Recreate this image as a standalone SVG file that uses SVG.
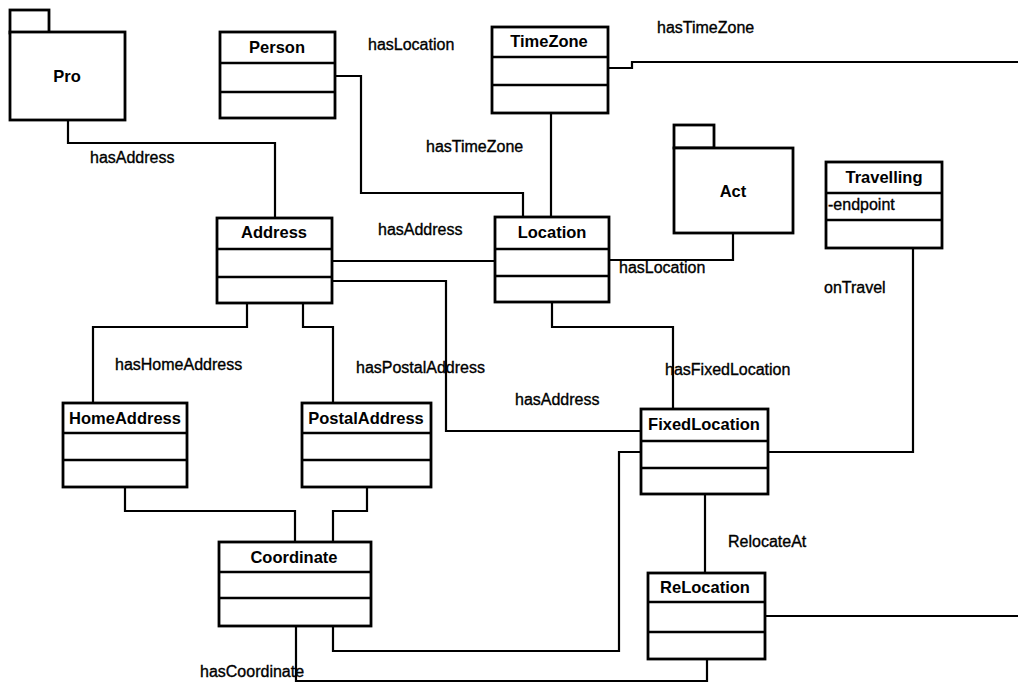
<svg xmlns="http://www.w3.org/2000/svg" width="1018" height="684" viewBox="0 0 1018 684">
  <style>
    .box { fill: #fff; stroke: #000; stroke-width: 2.8; }
    .sep { stroke: #000; stroke-width: 2.4; }
    .name { font-family: "Liberation Sans", Arial, sans-serif; font-weight: bold; font-size: 16.5px; text-anchor: middle; fill: #000; }
    .attr { font-family: "Liberation Sans", Arial, sans-serif; font-size: 16px; fill: #000; stroke: #000; stroke-width: 0.35; }
    .lbl { font-family: "Liberation Sans", Arial, sans-serif; font-size: 16px; fill: #000; stroke: #000; stroke-width: 0.35; }
    .wire { fill: none; stroke: #000; stroke-width: 2.2; }
  </style>
  <rect width="1018" height="684" fill="#fff"/>

  <!-- associations -->
  <g id="connectors">
    <path class="wire" d="M68,120 V143 H275 V218"/>
    <path class="wire" d="M335,76 H361 V193 H523 V217"/>
    <path class="wire" d="M551,113 V217"/>
    <path class="wire" d="M608,68 H632 V62 H1018"/>
    <path class="wire" d="M332,261 H495"/>
    <path class="wire" d="M332,281 H446 V431 H641"/>
    <path class="wire" d="M733,233 V260 H609"/>
    <path class="wire" d="M247,303 V327 H93 V403"/>
    <path class="wire" d="M303,303 V327 H333 V403"/>
    <path class="wire" d="M552,302 V327 H673 V409"/>
    <path class="wire" d="M913,248 V452 H768"/>
    <path class="wire" d="M705,494 V573"/>
    <path class="wire" d="M125,487 V511 H295 V542"/>
    <path class="wire" d="M367,487 V511 H333 V542"/>
    <path class="wire" d="M333,626 V651 H619 V452 H641"/>
    <path class="wire" d="M296,626 V681 H707 V659"/>
    <path class="wire" d="M765,616 H1018"/>

    <text class="lbl" x="90" y="163">hasAddress</text>
    <text class="lbl" x="368" y="50">hasLocation</text>
    <text class="lbl" x="657" y="33">hasTimeZone</text>
    <text class="lbl" x="426" y="152">hasTimeZone</text>
    <text class="lbl" x="378" y="235">hasAddress</text>
    <text class="lbl" x="619" y="273">hasLocation</text>
    <text class="lbl" x="824" y="293">onTravel</text>
    <text class="lbl" x="115" y="370">hasHomeAddress</text>
    <text class="lbl" x="356" y="373">hasPostalAddress</text>
    <text class="lbl" x="515" y="405">hasAddress</text>
    <text class="lbl" x="665" y="375">hasFixedLocation</text>
    <text class="lbl" x="728" y="547">RelocateAt</text>
    <text class="lbl" x="200" y="677">hasCoordinate</text>
  </g>

  <!-- packages -->
  <g id="pro">
    <rect class="box" x="10" y="10" width="39" height="23"/>
    <rect class="box" x="10" y="32" width="115" height="88"/>
    <text class="name" x="67" y="82">Pro</text>
  </g>
  <g id="act">
    <rect class="box" x="674" y="125" width="40" height="23"/>
    <rect class="box" x="674" y="148" width="119" height="85"/>
    <text class="name" x="733" y="197">Act</text>
  </g>

  <!-- classes -->
  <g id="person">
    <rect class="box" x="220" y="32" width="115" height="86"/>
    <line class="sep" x1="220" y1="63" x2="335" y2="63"/>
    <line class="sep" x1="220" y1="92" x2="335" y2="92"/>
    <text class="name" x="277" y="53">Person</text>
  </g>
  <g id="timezone">
    <rect class="box" x="492" y="27" width="116" height="86"/>
    <line class="sep" x1="492" y1="57" x2="608" y2="57"/>
    <line class="sep" x1="492" y1="85" x2="608" y2="85"/>
    <text class="name" x="549" y="47">TimeZone</text>
  </g>
  <g id="location">
    <rect class="box" x="495" y="217" width="114" height="85"/>
    <line class="sep" x1="495" y1="249" x2="609" y2="249"/>
    <line class="sep" x1="495" y1="276" x2="609" y2="276"/>
    <text class="name" x="552" y="238">Location</text>
  </g>
  <g id="address">
    <rect class="box" x="217" y="218" width="115" height="85"/>
    <line class="sep" x1="217" y1="249" x2="332" y2="249"/>
    <line class="sep" x1="217" y1="277" x2="332" y2="277"/>
    <text class="name" x="274" y="238">Address</text>
  </g>
  <g id="travelling">
    <rect class="box" x="826" y="162" width="116" height="86"/>
    <line class="sep" x1="826" y1="193" x2="942" y2="193"/>
    <line class="sep" x1="826" y1="220" x2="942" y2="220"/>
    <text class="name" x="884" y="183">Travelling</text>
    <text class="attr" x="828" y="210">-endpoint</text>
  </g>
  <g id="homeaddress">
    <rect class="box" x="63" y="403" width="124" height="84"/>
    <line class="sep" x1="63" y1="433" x2="187" y2="433"/>
    <line class="sep" x1="63" y1="460" x2="187" y2="460"/>
    <text class="name" x="125" y="424">HomeAddress</text>
  </g>
  <g id="postaladdress">
    <rect class="box" x="302" y="403" width="129" height="84"/>
    <line class="sep" x1="302" y1="433" x2="431" y2="433"/>
    <line class="sep" x1="302" y1="460" x2="431" y2="460"/>
    <text class="name" x="366" y="424">PostalAddress</text>
  </g>
  <g id="coordinate">
    <rect class="box" x="219" y="542" width="152" height="84"/>
    <line class="sep" x1="219" y1="572" x2="371" y2="572"/>
    <line class="sep" x1="219" y1="598" x2="371" y2="598"/>
    <text class="name" x="294" y="563">Coordinate</text>
  </g>
  <g id="fixedlocation">
    <rect class="box" x="641" y="409" width="127" height="85"/>
    <line class="sep" x1="641" y1="441" x2="768" y2="441"/>
    <line class="sep" x1="641" y1="468" x2="768" y2="468"/>
    <text class="name" x="704" y="430">FixedLocation</text>
  </g>
  <g id="relocation">
    <rect class="box" x="648" y="573" width="117" height="86"/>
    <line class="sep" x1="648" y1="602" x2="765" y2="602"/>
    <line class="sep" x1="648" y1="632" x2="765" y2="632"/>
    <text class="name" x="705" y="593">ReLocation</text>
  </g>
</svg>
